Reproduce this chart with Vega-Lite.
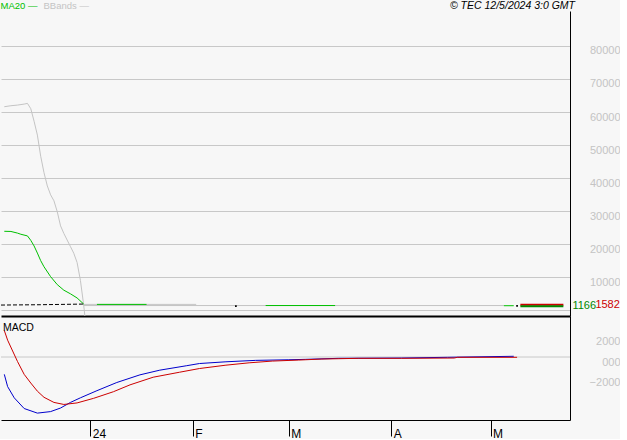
{
  "$schema": "https://vega.github.io/schema/vega-lite/v6.json",
  "background": "#f7f7f7",
  "padding": 0,
  "spacing": 0,
  "bounds": "flush",
  "config": {"view": {"stroke": null}, "font": "Liberation Sans"},
  "datasets": {
    "top": [
      {"series": "BBands", "seg": "A", "date": "2023-12-06", "value": 61600},
      {"series": "BBands", "seg": "A", "date": "2023-12-08", "value": 61900},
      {"series": "BBands", "seg": "A", "date": "2023-12-10", "value": 62100},
      {"series": "BBands", "seg": "A", "date": "2023-12-12", "value": 62400},
      {"series": "BBands", "seg": "A", "date": "2023-12-13", "value": 62600},
      {"series": "BBands", "seg": "A", "date": "2023-12-14", "value": 61000},
      {"series": "BBands", "seg": "A", "date": "2023-12-15", "value": 57200},
      {"series": "BBands", "seg": "A", "date": "2023-12-16", "value": 53000},
      {"series": "BBands", "seg": "A", "date": "2023-12-17", "value": 46600},
      {"series": "BBands", "seg": "A", "date": "2023-12-18", "value": 41600},
      {"series": "BBands", "seg": "A", "date": "2023-12-19", "value": 37600},
      {"series": "BBands", "seg": "A", "date": "2023-12-20", "value": 34900},
      {"series": "BBands", "seg": "A", "date": "2023-12-21", "value": 33100},
      {"series": "BBands", "seg": "A", "date": "2023-12-22", "value": 29800},
      {"series": "BBands", "seg": "A", "date": "2023-12-23", "value": 25500},
      {"series": "BBands", "seg": "A", "date": "2023-12-24", "value": 23200},
      {"series": "BBands", "seg": "A", "date": "2023-12-25", "value": 21200},
      {"series": "BBands", "seg": "A", "date": "2023-12-26", "value": 19200},
      {"series": "BBands", "seg": "A", "date": "2023-12-27", "value": 17200},
      {"series": "BBands", "seg": "A", "date": "2023-12-28", "value": 14400},
      {"series": "BBands", "seg": "A", "date": "2023-12-29", "value": 9000},
      {"series": "BBands", "seg": "A", "date": "2023-12-30", "value": 1500},
      {"series": "BBands", "seg": "A", "date": "2023-12-31", "value": -8000},
      {"series": "BBands", "seg": "up", "date": "2023-12-30", "value": 1700},
      {"series": "BBands", "seg": "up", "date": "2024-02-02", "value": 1700},
      {"series": "BBands", "seg": "lo", "date": "2023-12-30", "value": 1350},
      {"series": "BBands", "seg": "lo", "date": "2024-05-05", "value": 1350},
      {"series": "MA20", "seg": "a", "date": "2023-12-06", "value": 23850},
      {"series": "MA20", "seg": "a", "date": "2023-12-08", "value": 23800},
      {"series": "MA20", "seg": "a", "date": "2023-12-10", "value": 23300},
      {"series": "MA20", "seg": "a", "date": "2023-12-11", "value": 22950},
      {"series": "MA20", "seg": "a", "date": "2023-12-13", "value": 22450},
      {"series": "MA20", "seg": "a", "date": "2023-12-14", "value": 21100},
      {"series": "MA20", "seg": "a", "date": "2023-12-15", "value": 19400},
      {"series": "MA20", "seg": "a", "date": "2023-12-16", "value": 17250},
      {"series": "MA20", "seg": "a", "date": "2023-12-17", "value": 14950},
      {"series": "MA20", "seg": "a", "date": "2023-12-18", "value": 13100},
      {"series": "MA20", "seg": "a", "date": "2023-12-20", "value": 10100},
      {"series": "MA20", "seg": "a", "date": "2023-12-22", "value": 7700},
      {"series": "MA20", "seg": "a", "date": "2023-12-24", "value": 6000},
      {"series": "MA20", "seg": "a", "date": "2023-12-26", "value": 4900},
      {"series": "MA20", "seg": "a", "date": "2023-12-28", "value": 3650},
      {"series": "MA20", "seg": "a", "date": "2023-12-30", "value": 1800},
      {"series": "MA20", "seg": "b", "date": "2024-01-03", "value": 1700},
      {"series": "MA20", "seg": "b", "date": "2024-01-18", "value": 1700},
      {"series": "MA20", "seg": "c", "date": "2024-02-23", "value": 1350},
      {"series": "MA20", "seg": "c", "date": "2024-03-15", "value": 1350},
      {"series": "MA20", "seg": "d", "date": "2024-05-05", "value": 1300},
      {"series": "MA20", "seg": "d", "date": "2024-05-08", "value": 1300},
      {"series": "Price", "seg": "p", "date": "2023-12-05", "value": 1500},
      {"series": "Price", "seg": "p", "date": "2023-12-17", "value": 1600},
      {"series": "Price", "seg": "p", "date": "2023-12-30", "value": 1800},
      {"series": "Price", "seg": "dot", "date": "2024-02-14", "value": 1200},
      {"series": "Price", "seg": "dot", "date": "2024-05-09", "value": 1250},
      {"series": "Last", "seg": "high", "date": "2024-05-10", "date2": "2024-05-23", "value": 1582},
      {"series": "Last", "seg": "low", "date": "2024-05-10", "date2": "2024-05-23", "value": 1166}
    ],
    "macd": [
      {"series": "MACD", "date": "2023-12-06", "value": -1700},
      {"series": "MACD", "date": "2023-12-07", "value": -2900},
      {"series": "MACD", "date": "2023-12-09", "value": -4000},
      {"series": "MACD", "date": "2023-12-12", "value": -5050},
      {"series": "MACD", "date": "2023-12-16", "value": -5500},
      {"series": "MACD", "date": "2023-12-20", "value": -5350},
      {"series": "MACD", "date": "2023-12-23", "value": -5000},
      {"series": "MACD", "date": "2023-12-26", "value": -4450},
      {"series": "MACD", "date": "2023-12-29", "value": -4000},
      {"series": "MACD", "date": "2024-01-03", "value": -3300},
      {"series": "MACD", "date": "2024-01-09", "value": -2500},
      {"series": "MACD", "date": "2024-01-16", "value": -1750},
      {"series": "MACD", "date": "2024-01-22", "value": -1290},
      {"series": "MACD", "date": "2024-01-30", "value": -860},
      {"series": "MACD", "date": "2024-02-03", "value": -640},
      {"series": "MACD", "date": "2024-02-11", "value": -470},
      {"series": "MACD", "date": "2024-02-20", "value": -330},
      {"series": "MACD", "date": "2024-03-01", "value": -270},
      {"series": "MACD", "date": "2024-03-06", "value": -230},
      {"series": "MACD", "date": "2024-03-16", "value": -130},
      {"series": "MACD", "date": "2024-04-04", "value": -100},
      {"series": "MACD", "date": "2024-04-18", "value": -30},
      {"series": "MACD", "date": "2024-05-08", "value": 70},
      {"series": "Signal", "date": "2023-12-06", "value": 2600},
      {"series": "Signal", "date": "2023-12-07", "value": 1650},
      {"series": "Signal", "date": "2023-12-10", "value": -450},
      {"series": "Signal", "date": "2023-12-12", "value": -1700},
      {"series": "Signal", "date": "2023-12-14", "value": -2550},
      {"series": "Signal", "date": "2023-12-16", "value": -3350},
      {"series": "Signal", "date": "2023-12-18", "value": -3950},
      {"series": "Signal", "date": "2023-12-21", "value": -4450},
      {"series": "Signal", "date": "2023-12-24", "value": -4650},
      {"series": "Signal", "date": "2023-12-28", "value": -4500},
      {"series": "Signal", "date": "2024-01-02", "value": -4050},
      {"series": "Signal", "date": "2024-01-08", "value": -3400},
      {"series": "Signal", "date": "2024-01-13", "value": -2730},
      {"series": "Signal", "date": "2024-01-20", "value": -1980},
      {"series": "Signal", "date": "2024-01-28", "value": -1490},
      {"series": "Signal", "date": "2024-02-03", "value": -1130},
      {"series": "Signal", "date": "2024-02-11", "value": -800},
      {"series": "Signal", "date": "2024-02-18", "value": -570},
      {"series": "Signal", "date": "2024-02-25", "value": -400},
      {"series": "Signal", "date": "2024-03-04", "value": -300},
      {"series": "Signal", "date": "2024-03-11", "value": -200},
      {"series": "Signal", "date": "2024-03-22", "value": -130},
      {"series": "Signal", "date": "2024-04-04", "value": -130},
      {"series": "Signal", "date": "2024-04-20", "value": -100},
      {"series": "Signal", "date": "2024-04-21", "value": -30},
      {"series": "Signal", "date": "2024-05-09", "value": -30}
    ]
  },
  "vconcat": [
    {
      "width": 569,
      "height": 305,
      "title": {"text": "© TEC 12/5/2024 3:0 GMT", "anchor": "end", "frame": "group", "font": "Liberation Sans", "fontSize": 10.5, "fontStyle": "italic", "fontWeight": "normal", "color": "#000000", "offset": 0, "dx": 5},
      "data": {"name": "top"},
      "encoding": {
        "x": {"field": "date", "type": "temporal",
              "scale": {"type": "utc", "domain": [1701734400000, 1716595200000]},
              "axis": {"orient": "bottom", "labels": false, "ticks": false, "grid": false, "domain": true, "domainColor": "#000000", "domainWidth": 2, "title": null, "minExtent": 0}},
        "y": {"field": "value", "type": "quantitative",
              "scale": {"domain": [-1818, 90606], "nice": false, "zero": false},
              "axis": {"orient": "right", "values": [0, 10000, 20000, 30000, 40000, 50000, 60000, 70000, 80000],
                       "grid": true, "gridColor": "#c8c8c8", "gridWidth": 1, "ticks": false, "tickSize": 0,
                       "domain": true, "domainColor": "#000000", "domainWidth": 1,
                       "labelColor": "#c4c4c4", "labelFont": "Liberation Sans", "labelFontSize": 11,
                       "labelAlign": "right", "labelBaseline": "middle", "labelPadding": 50, "labelOffset": 5,
                       "labelFlush": false, "labelOverlap": false,
                       "labelExpr": "datum.value === 0 ? '' : format(datum.value, 'd')", "title": null}}
      },
      "layer": [
        {
          "transform": [{"filter": "datum.series === 'BBands'"}],
          "mark": {"type": "line", "strokeWidth": 1, "clip": true},
          "encoding": {
            "color": {"field": "series", "type": "nominal",
                      "scale": {"domain": ["MA20", "BBands"], "range": ["#00c000", "#c4c4c4"]},
                      "legend": {"title": null, "orient": "none", "legendX": 0, "legendY": -10, "direction": "horizontal",
                                 "padding": 0, "symbolSize": 0, "symbolOpacity": 0, "symbolStrokeWidth": 0, "labelOffset": -10,
                                 "columnPadding": 5, "labelFont": "Liberation Sans", "labelFontSize": 9.5,
                                 "labelExpr": "datum.label + ' —'", "labelBaseline": "middle",
                                 "encode": {"labels": {"update": {"fill": {"signal": "datum.value === 'MA20' ? '#00c000' : '#c4c4c4'"}}}}}},
            "detail": {"field": "seg"}
          }
        },
        {
          "transform": [{"filter": "datum.series === 'MA20'"}],
          "mark": {"type": "line", "strokeWidth": 1, "clip": true},
          "encoding": {
            "color": {"field": "series", "type": "nominal",
                      "scale": {"domain": ["MA20", "BBands"], "range": ["#00c000", "#c4c4c4"]},
                      "legend": {"title": null, "orient": "none", "legendX": 0, "legendY": -10, "direction": "horizontal",
                                 "padding": 0, "symbolSize": 0, "symbolOpacity": 0, "symbolStrokeWidth": 0, "labelOffset": -10,
                                 "columnPadding": 5, "labelFont": "Liberation Sans", "labelFontSize": 9.5,
                                 "labelExpr": "datum.label + ' —'", "labelBaseline": "middle",
                                 "encode": {"labels": {"update": {"fill": {"signal": "datum.value === 'MA20' ? '#00c000' : '#c4c4c4'"}}}}}},
            "detail": {"field": "seg"}
          }
        },
        {
          "transform": [{"filter": "datum.seg === 'p'"}],
          "mark": {"type": "line", "color": "#000000", "strokeWidth": 1, "strokeDash": [4, 2], "clip": true}
        },
        {
          "transform": [{"filter": "datum.seg === 'dot'"}],
          "mark": {"type": "square", "color": "#000000", "size": 3, "opacity": 1}
        },
        {
          "transform": [{"filter": "datum.seg === 'high'"}],
          "mark": {"type": "rule", "color": "#cc0000", "strokeWidth": 2},
          "encoding": {"x2": {"field": "date2"}}
        },
        {
          "transform": [{"filter": "datum.seg === 'low'"}],
          "mark": {"type": "rule", "color": "#008800", "strokeWidth": 2},
          "encoding": {"x2": {"field": "date2"}}
        },
        {
          "transform": [{"filter": "datum.seg === 'low'"}],
          "mark": {"type": "text", "color": "#008800", "align": "left", "baseline": "middle", "dx": 9, "font": "Liberation Sans", "fontSize": 11},
          "encoding": {"x": {"field": "date2", "type": "temporal"}, "text": {"field": "value", "type": "quantitative", "format": "d"}}
        },
        {
          "transform": [{"filter": "datum.seg === 'high'"}],
          "mark": {"type": "text", "color": "#cc0000", "align": "left", "baseline": "middle", "dx": 32, "font": "Liberation Sans", "fontSize": 11},
          "encoding": {"x": {"field": "date2", "type": "temporal"}, "text": {"field": "value", "type": "quantitative", "format": "d"}}
        }
      ]
    },
    {
      "width": 569,
      "height": 104,
      "title": {"text": "MACD", "anchor": "start", "frame": "group", "font": "Liberation Sans", "fontSize": 10.5, "fontWeight": "normal", "color": "#000000", "offset": -17, "dx": 2},
      "data": {"name": "macd"},
      "layer": [
        {
          "data": {"values": [{"zero": 0}]},
          "mark": {"type": "rule", "color": "#c8c8c8", "strokeWidth": 1},
          "encoding": {"y": {"datum": 0, "type": "quantitative", "scale": {"domain": [-6174, 4018], "nice": false, "zero": false}}}
        },
        {
          "transform": [{"filter": "datum.series === 'MACD'"}],
          "mark": {"type": "line", "color": "#0000cc", "strokeWidth": 1},
          "encoding": {
            "x": {"field": "date", "type": "temporal",
                  "scale": {"type": "utc", "domain": [1701734400000, 1716595200000]},
                  "axis": {"orient": "bottom", "values": [1704067200000, 1706745600000, 1709251200000, 1711929600000, 1714521600000],
                           "labelExpr": "utcFormat(datum.value, '%m') === '01' ? utcFormat(datum.value, '%y') : slice(utcFormat(datum.value, '%b'), 0, 1)",
                           "tickSize": 16, "tickColor": "#000000", "domainColor": "#000000", "labelColor": "#000000",
                           "labelFont": "Liberation Sans", "labelFontSize": 12, "labelAlign": "left", "labelOffset": 2,
                           "labelPadding": -8, "labelBaseline": "top", "grid": false, "title": null, "labelFlush": false, "labelOverlap": false}},
            "y": {"field": "value", "type": "quantitative",
                  "scale": {"domain": [-6174, 4018], "nice": false, "zero": false},
                  "axis": {"orient": "right", "values": [-2000, 0, 2000], "grid": false, "ticks": false, "tickSize": 0,
                           "domainColor": "#000000", "labelColor": "#c4c4c4", "labelFont": "Liberation Sans", "labelFontSize": 11,
                           "labelAlign": "right", "labelBaseline": "middle", "labelPadding": 50, "labelOffset": 5,
                           "labelExpr": "datum.value === 0 ? '000' : format(datum.value, 'd')", "title": null}}
          }
        },
        {
          "transform": [{"filter": "datum.series === 'Signal'"}],
          "mark": {"type": "line", "color": "#cc0000", "strokeWidth": 1},
          "encoding": {
            "x": {"field": "date", "type": "temporal", "scale": {"type": "utc", "domain": [1701734400000, 1716595200000]}},
            "y": {"field": "value", "type": "quantitative", "scale": {"domain": [-6174, 4018], "nice": false, "zero": false}}
          }
        }
      ]
    }
  ]
}
